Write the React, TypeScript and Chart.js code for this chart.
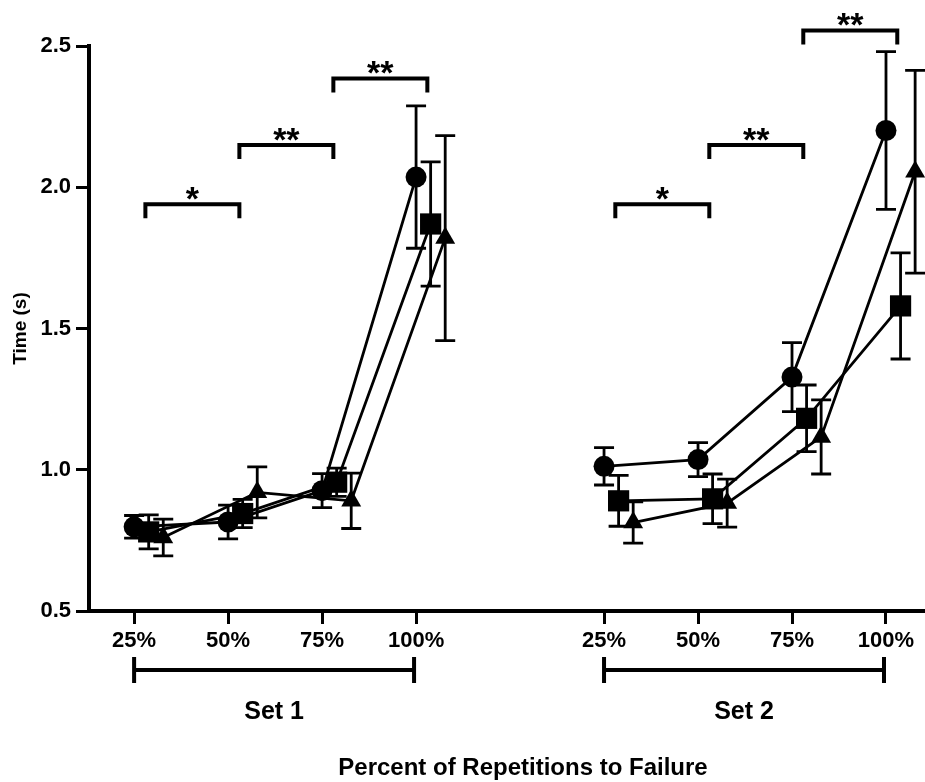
import React, { useEffect, useRef } from 'react';
import { Chart, registerables } from 'chart.js';

Chart.register(...registerables);

// ---- data ----
const setNames = ['Set 1', 'Set 2'];
const pctLabels = ['25%', '50%', '75%', '100%'];
const seriesStyles = ['circle', 'rect', 'triangle'];

// values ordered: Set 1 (25,50,75,100), Set 2 (25,50,75,100)
const circleMean = [0.798, 0.815, 0.926, 2.036, 1.012, 1.036, 1.328, 2.201];
const circleSD = [0.04, 0.06, 0.06, 0.252, 0.066, 0.06, 0.122, 0.279];
const squareMean = [0.78, 0.845, 0.956, 1.87, 0.89, 0.897, 1.182, 1.58];
const squareSD = [0.06, 0.05, 0.05, 0.22, 0.09, 0.088, 0.118, 0.188];
const triMean = [0.76, 0.92, 0.89, 1.82, 0.813, 0.882, 1.116, 2.055];
const triSD = [0.065, 0.09, 0.098, 0.363, 0.073, 0.085, 0.131, 0.359];

// significance brackets (indices into the 8 positions)
const sigFrom = [0, 1, 2, 4, 5, 6];
const sigTo = [1, 2, 3, 5, 6, 7];
const sigLevel = [1.94, 2.15, 2.385, 1.94, 2.15, 2.555];
const sigText = ['*', '**', '**', '*', '**', '**'];

const yTicks = [0.5, 1.0, 1.5, 2.0, 2.5];

// ---- helpers ----
const FONT = "'Liberation Sans', Arial, Helvetica, sans-serif";
const seriesOffset = [0, 0.155, 0.31];
const sigOffset = 0.12;
const perSet = pctLabels.length;
const pos = (i: number) => Math.floor(i / perSet) * (perSet + 1) + (i % perSet) + 1;
const tickVals = circleMean.map((_, i) => pos(i));

const series = [
  { mean: circleMean, sd: circleSD, radius: 10.5 },
  { mean: squareMean, sd: squareSD, radius: 15 },
  { mean: triMean, sd: triSD, radius: 11.5 },
];

function buildData(mean: number[], off: number) {
  const out: { x: number; y: number | null }[] = [];
  mean.forEach((m, i) => {
    if (i > 0 && i % perSet === 0) out.push({ x: pos(i) - 1 + off, y: null });
    out.push({ x: pos(i) + off, y: m });
  });
  return out;
}

const errorBarPlugin = {
  id: 'errorBars',
  afterDatasetsDraw(chart: any) {
    const { ctx, scales } = chart;
    const xs = scales.x;
    const ys = scales.y;
    ctx.save();
    ctx.strokeStyle = '#000';
    ctx.lineWidth = 2.8;
    series.forEach((s, si) => {
      s.mean.forEach((m, i) => {
        const x = xs.getPixelForValue(pos(i) + seriesOffset[si]);
        const yt = ys.getPixelForValue(m + s.sd[i]);
        const yb = ys.getPixelForValue(m - s.sd[i]);
        ctx.beginPath();
        ctx.moveTo(x, yt);
        ctx.lineTo(x, yb);
        ctx.moveTo(x - 10, yt);
        ctx.lineTo(x + 10, yt);
        ctx.moveTo(x - 10, yb);
        ctx.lineTo(x + 10, yb);
        ctx.stroke();
      });
    });
    ctx.restore();
  },
};

const annotationPlugin = {
  id: 'annotations',
  afterDraw(chart: any) {
    const { ctx, scales, chartArea } = chart;
    const xs = scales.x;
    const ys = scales.y;
    ctx.save();
    ctx.strokeStyle = '#000';
    ctx.fillStyle = '#000';
    ctx.lineWidth = 4;
    ctx.lineCap = 'butt';

    // significance brackets
    sigFrom.forEach((f, k) => {
      const x1 = xs.getPixelForValue(pos(f) + sigOffset);
      const x2 = xs.getPixelForValue(pos(sigTo[k]) + sigOffset);
      const y = ys.getPixelForValue(sigLevel[k]);
      ctx.lineWidth = 4;
      ctx.beginPath();
      ctx.moveTo(x1, y + 14);
      ctx.lineTo(x1, y);
      ctx.lineTo(x2, y);
      ctx.lineTo(x2, y + 14);
      ctx.stroke();
      ctx.font = `bold 34px ${FONT}`;
      ctx.textAlign = 'center';
      ctx.textBaseline = 'alphabetic';
      const m = ctx.measureText(sigText[k]);
      const base = y - 4 - m.actualBoundingBoxDescent;
      ctx.fillText(sigText[k], (x1 + x2) / 2, base);
    });

    // set brackets below axis
    const bottom = chartArea.bottom;
    setNames.forEach((name, s) => {
      const first = s * perSet;
      const last = first + perSet - 1;
      const x1 = xs.getPixelForValue(pos(first));
      const x2 = xs.getPixelForValue(pos(last)) - 2;
      const y = bottom + 59;
      ctx.lineWidth = 4;
      ctx.beginPath();
      ctx.moveTo(x1, y);
      ctx.lineTo(x2, y);
      ctx.moveTo(x1, y - 13);
      ctx.lineTo(x1, y + 13);
      ctx.moveTo(x2, y - 13);
      ctx.lineTo(x2, y + 13);
      ctx.stroke();
      ctx.font = `bold 25px ${FONT}`;
      ctx.textAlign = 'center';
      ctx.textBaseline = 'alphabetic';
      ctx.fillText(name, (x1 + x2) / 2, bottom + 108);
    });

    // x axis title
    ctx.font = `bold 24px ${FONT}`;
    ctx.textAlign = 'center';
    ctx.textBaseline = 'alphabetic';
    ctx.fillText('Percent of Repetitions to Failure', (chartArea.left + chartArea.right) / 2 + 16, bottom + 164);
    ctx.restore();
  },
};

export default function App() {
  const ref = useRef<HTMLCanvasElement | null>(null);

  useEffect(() => {
    if (!ref.current) return;
    const datasets = series.map((s, si) => ({
      type: 'line' as const,
      label: seriesStyles[si],
      data: buildData(s.mean, seriesOffset[si]),
      borderColor: '#000',
      borderWidth: 2.8,
      backgroundColor: '#000',
      pointStyle: seriesStyles[si],
      pointRadius: s.radius,
      pointBackgroundColor: '#000',
      pointBorderColor: '#000',
      pointBorderWidth: 0,
      tension: 0,
      spanGaps: false,
      clip: false as any,
    }));

    const chart = new Chart(ref.current, {
      type: 'line',
      data: { datasets },
      plugins: [errorBarPlugin, annotationPlugin],
      options: {
        animation: false,
        responsive: false,
        events: [],
        layout: { autoPadding: false, padding: { top: 46, right: 0, left: 0, bottom: 0 } },
        plugins: {
          legend: { display: false },
          tooltip: { enabled: false },
        },
        scales: {
          x: {
            type: 'linear',
            min: 0.52,
            max: 9.415,
            afterBuildTicks: (scale: any) => {
              scale.ticks = tickVals.map((v) => ({ value: v }));
            },
            afterFit: (scale: any) => {
              scale.height = 171;
            },
            grid: {
              display: true,
              drawOnChartArea: false,
              drawTicks: true,
              tickLength: 13,
              tickWidth: 3,
              tickColor: '#000',
            },
            border: { display: true, width: 4, color: '#000' },
            ticks: {
              autoSkip: false,
              maxRotation: 0,
              padding: 4,
              color: '#000',
              font: { family: FONT, size: 22, weight: 'bold' },
              callback: (v: any) => {
                const idx = tickVals.indexOf(Number(v));
                return idx >= 0 ? pctLabels[idx % perSet] : '';
              },
            },
          },
          y: {
            type: 'linear',
            min: 0.5,
            max: 2.5,
            afterBuildTicks: (scale: any) => {
              scale.ticks = yTicks.map((v) => ({ value: v }));
            },
            afterFit: (scale: any) => {
              scale.width = 89;
            },
            grid: {
              display: true,
              drawOnChartArea: false,
              drawTicks: true,
              tickLength: 13,
              tickWidth: 3,
              tickColor: '#000',
            },
            border: { display: true, width: 4, color: '#000' },
            ticks: {
              padding: 5,
              color: '#000',
              font: { family: FONT, size: 22, weight: 'bold' },
              callback: (v: any) => Number(v).toFixed(1),
            },
            title: {
              display: true,
              text: 'Time (s)',
              color: '#000',
              font: { family: FONT, size: 19, weight: 'bold' },
              padding: { top: 9, bottom: 0 },
            },
          },
        },
      } as any,
    });
    return () => chart.destroy();
  }, []);

  return (
    <div style={{ position: 'fixed', left: 0, top: 0, width: 925, height: 782, background: '#fff' }}>
      <canvas ref={ref} width={925} height={782} style={{ display: 'block' }} />
    </div>
  );
}
